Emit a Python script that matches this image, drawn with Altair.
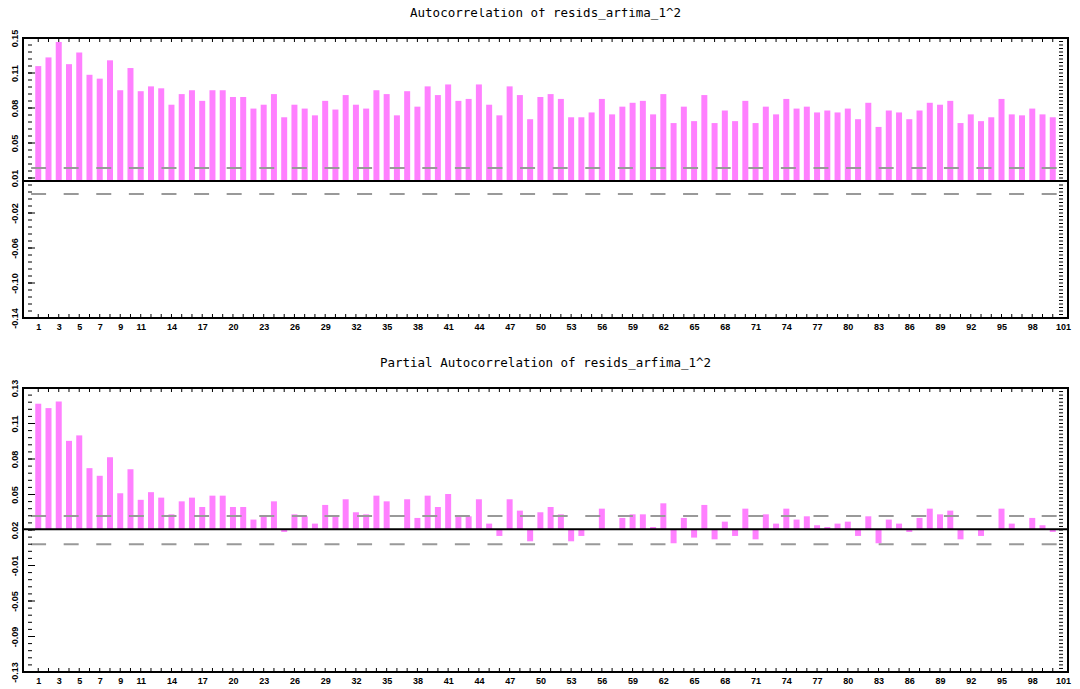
import altair as alt
import pandas as pd
import numpy as np

lags = list(range(1, 101))

acf_values = [
    0.119, 0.128, 0.144, 0.121, 0.133, 0.110, 0.106, 0.125, 0.094, 0.117,
    0.093, 0.098, 0.096, 0.079, 0.090, 0.094, 0.083, 0.094, 0.094, 0.087,
    0.087, 0.075, 0.079, 0.090, 0.066, 0.079, 0.075, 0.068, 0.083, 0.074,
    0.089, 0.079, 0.075, 0.094, 0.090, 0.068, 0.093, 0.077, 0.098, 0.089,
    0.100, 0.083, 0.085, 0.100, 0.079, 0.068, 0.098, 0.089, 0.064, 0.087,
    0.090, 0.085, 0.066, 0.066, 0.071, 0.085, 0.069, 0.077, 0.081, 0.083,
    0.069, 0.090, 0.060, 0.077, 0.062, 0.089, 0.060, 0.073, 0.062, 0.083,
    0.060, 0.077, 0.069, 0.085, 0.075, 0.077, 0.071, 0.073, 0.071, 0.075,
    0.064, 0.081, 0.056, 0.073, 0.071, 0.064, 0.073, 0.081, 0.079, 0.083,
    0.060, 0.069, 0.062, 0.066, 0.085, 0.069, 0.068, 0.075, 0.069, 0.066,
]

pacf_values = [
    0.115, 0.111, 0.117, 0.081, 0.086, 0.056, 0.049, 0.066, 0.033, 0.055,
    0.027, 0.034, 0.029, 0.0137, 0.0256, 0.029, 0.0204, 0.0308, 0.0308, 0.0204,
    0.0204, 0.0089, 0.0119, 0.0256, -0.0024, 0.0137, 0.0119, 0.0052, 0.0223, 0.0119,
    0.0275, 0.0156, 0.0137, 0.0308, 0.0256, 0.0, 0.0275, 0.0104, 0.0308, 0.0204,
    0.0323, 0.0119, 0.0119, 0.0275, 0.0052, -0.0061, 0.0275, 0.0171, -0.011, 0.0156,
    0.0204, 0.0137, -0.011, -0.0061, 0.0, 0.0189, 0.0, 0.0104, 0.0137, 0.0137,
    0.0021, 0.0238, -0.0128, 0.0104, -0.0076, 0.0223, -0.0092, 0.007, -0.0061, 0.0189,
    -0.0092, 0.0137, 0.0052, 0.0189, 0.0089, 0.0119, 0.0037, 0.0021, 0.0052, 0.007,
    -0.0061, 0.0119, -0.0128, 0.0089, 0.0052, -0.0024, 0.0104, 0.0189, 0.0137, 0.0171,
    -0.0092, 0.0, -0.0061, 0.0, 0.0189, 0.0052, 0.0, 0.0104, 0.0037, -0.0024,
]

acf_conf = [0.0135, -0.0135]
pacf_conf = [0.0121, -0.0137]

acf_domain = [-0.1419, 0.1481]
pacf_domain = [-0.1307, 0.1294]

acf_tick_labels = ["-0.14", "-0.10", "-0.06", "-0.02", "0.01", "0.05", "0.08", "0.11", "0.15"]
pacf_tick_labels = ["-0.13", "-0.09", "-0.05", "-0.01", "0.02", "0.05", "0.08", "0.11", "0.13"]

x_tick_values = [1, 3, 5, 7, 9, 11, 14, 17, 20, 23, 26, 29, 32, 35, 38, 41, 44, 47,
                 50, 53, 56, 59, 62, 65, 68, 71, 74, 77, 80, 83, 86, 89, 92, 95, 98, 101]

acf_title = "Autocorrelation of resids_arfima_1^2"
pacf_title = "Partial Autocorrelation of resids_arfima_1^2"

X_DOMAIN = [0, 101]
W = 1045
LABEL_FONT = "Liberation Sans"
TITLE_FONT = "DejaVu Sans Mono"
BAR_COLOR = "#ff80ff"
DASH_COLOR = "#999999"


def panel(values, conf, domain, tick_labels, title, height, title_offset):
    lo, hi = domain
    step = (hi - lo) / 8
    y_ticks = [lo + i * step for i in range(9)]
    label_expr = ("[" + ",".join(f"'{t}'" for t in tick_labels) + "]"
                  + f"[round((datum.value - ({lo})) / {step})]")

    xs = alt.Scale(domain=X_DOMAIN, nice=False, zero=False)
    ys = alt.Scale(domain=domain, nice=False, zero=False)

    df = pd.DataFrame({"lag": lags, "value": values, "base": [0.0] * len(lags)})

    bars = alt.Chart(df).mark_bar(color=BAR_COLOR, size=6).encode(
        x=alt.X("lag:Q", scale=xs,
                axis=alt.Axis(values=x_tick_values, tickCount=200, format="d",
                              title=None)),
        y=alt.Y("value:Q", scale=ys,
                axis=alt.Axis(values=y_ticks, tickCount=50, labelExpr=label_expr,
                              title=None)),
        y2=alt.Y2("base:Q"),
    )

    conf_df = pd.DataFrame({"c": conf, "x0": [0.3, 0.3], "x1": [101, 101]})
    dashes = alt.Chart(conf_df).mark_rule(
        color=DASH_COLOR, strokeWidth=2, strokeDash=[15, 17.6]
    ).encode(
        y=alt.Y("c:Q", scale=ys),
        x=alt.X("x0:Q", scale=xs),
        x2="x1:Q",
    )

    zero_df = pd.DataFrame({"z": [0.0]})
    zero = alt.Chart(zero_df).mark_rule(color="black", strokeWidth=2).encode(
        y=alt.Y("z:Q", scale=ys)
    )

    # inward ticks along the frame
    xt = pd.DataFrame({"t": list(range(1, 101)), "lo": [lo] * 100, "hi": [hi] * 100})
    top_ticks = alt.Chart(xt).mark_rule(color="black", strokeWidth=1, y2Offset=4).encode(
        x=alt.X("t:Q", scale=xs), y=alt.Y("hi:Q", scale=ys), y2="hi:Q")
    bot_ticks = alt.Chart(xt).mark_rule(color="black", strokeWidth=1, y2Offset=-4).encode(
        x=alt.X("t:Q", scale=xs), y=alt.Y("lo:Q", scale=ys), y2="lo:Q")

    minor = [lo + i * step / 5 for i in range(41)]
    lt = pd.DataFrame({"v": minor, "x0": [0] * 41})
    left_ticks = alt.Chart(lt).mark_rule(color="black", strokeWidth=1, x2Offset=4).encode(
        y=alt.Y("v:Q", scale=ys), x=alt.X("x0:Q", scale=xs), x2="x0:Q")
    major_df = pd.DataFrame({"v": y_ticks, "x0": [0] * 9})
    left_major = alt.Chart(major_df).mark_rule(color="black", strokeWidth=1, x2Offset=7).encode(
        y=alt.Y("v:Q", scale=ys), x=alt.X("x0:Q", scale=xs), x2="x0:Q")
    fine = [lo + i * step / 10 for i in range(81)]
    rt = pd.DataFrame({"v": fine, "x1": [101] * 81})
    right_ticks = alt.Chart(rt).mark_rule(color="black", strokeWidth=1, x2Offset=-4).encode(
        y=alt.Y("v:Q", scale=ys), x=alt.X("x1:Q", scale=xs), x2="x1:Q")

    return alt.layer(
        bars, dashes, zero, top_ticks, bot_ticks, left_ticks, left_major, right_ticks
    ).properties(
        width=W, height=height,
        title=alt.TitleParams(title, font=TITLE_FONT, fontSize=12.5, fontWeight="normal",
                              color="black", anchor="middle", offset=title_offset),
    )


top = panel(acf_values, acf_conf, acf_domain, acf_tick_labels, acf_title, 280, 10)
bottom = panel(pacf_values, pacf_conf, pacf_domain, pacf_tick_labels, pacf_title, 284, 10)

chart = alt.vconcat(top, bottom, spacing=23).properties(
    padding={"left": 1, "top": -3, "right": 0, "bottom": 0},
    background="white",
).configure_view(
    stroke="black", strokeWidth=2
).configure_axis(
    labelOverlap=False, labelBound=False, labelFlush=False, ticks=False,
    domain=False, grid=False, labelFont=LABEL_FONT, labelFontSize=9,
    labelFontWeight="bold", labelColor="black"
).configure_axisX(
    labelPadding=4
).configure_axisY(
    labelAngle=270, labelPadding=4
)

chart.save("out.html", embed_options={"renderer": "svg", "actions": False})
